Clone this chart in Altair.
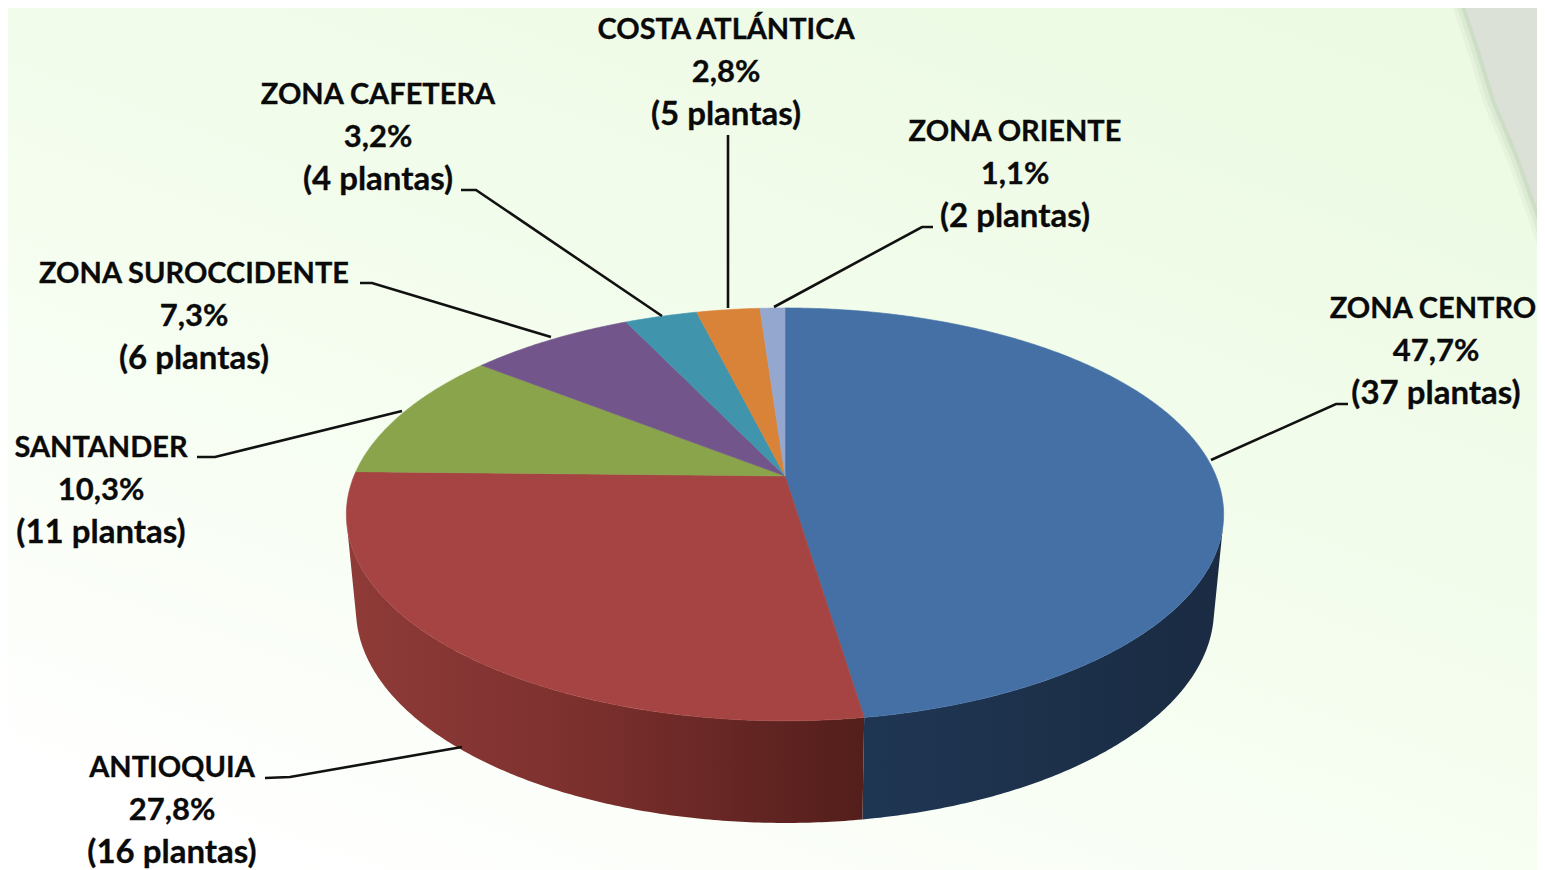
import math
import altair as alt
import pandas as pd

# ---------- data ----------
zones = ["ZONA CENTRO", "ANTIOQUIA", "SANTANDER", "ZONA SUROCCIDENTE",
         "ZONA CAFETERA", "COSTA ATLÁNTICA", "ZONA ORIENTE"]
shares = [47.7, 27.8, 10.3, 7.3, 3.2, 2.8, 1.1]
plants = [37, 16, 11, 6, 4, 5, 2]
top_colors = ["#4570A6", "#A54442", "#8AA44C", "#72558A", "#4095AD", "#D98339", "#94A8CF"]

# ---------- layout (pixels of the 1545x870 frame) ----------
W, H = 1537, 870
APEX_X, APEX_Y = 785.0, 476.0
A, B, K = 431.0, 199.3, 0.186
A2, B2, Y2 = 421.5, 205.9, 570.0

label_xy = [(1436, 309), (172, 768), (101, 448), (194, 274), (378, 95), (726, 30), (1015, 132)]
LINE_GAP = 42.7
first_line_x_nudge = {0: -3}  # keeps ZONA CENTRO inside the page's right edge
leaders = [
    [(1211, 460), (1336, 404), (1348, 404)],
    [(462, 747), (290, 777), (265, 778)],
    [(402, 411), (215, 457), (197, 457)],
    [(551, 337), (372, 283), (360, 283)],
    [(662, 316), (476, 190), (461, 190)],
    [(728, 308), (728, 135)],
    [(774, 307), (922, 227), (933, 227)],
]
corner_edge = [(1463, 0), (1478, 45), (1495, 100), (1518, 155), (1536, 205), (1550, 245)]
corner_fill = corner_edge + [(1560, 245), (1560, 0)]

xs = alt.Scale(domain=[8, W], range=[0, W - 8], nice=False, zero=False)
ys = alt.Scale(domain=[8, H], range=[0, H - 8], nice=False, zero=False)


def top_pt(theta):
    u, v = math.sin(theta), math.cos(theta)
    d = 1 + K * v
    return APEX_X + A * u / d, APEX_Y - B * v / d


def bottom_pt(theta):
    u, v = math.sin(theta), math.cos(theta)
    d = 1 + K * v
    return APEX_X + A2 * u / d, Y2 - B2 * v / d


def arc(fn, t0, t1, step_deg=0.5):
    n = max(2, int(abs(t1 - t0) / math.radians(step_deg)))
    return [fn(t0 + (t1 - t0) * i / n) for i in range(n + 1)]


def poly(points, **mark):
    df = pd.DataFrame(points, columns=["x", "y"])
    df["i"] = range(len(df))
    return alt.Chart(df).mark_line(**mark).encode(
        x=alt.X("x:Q", scale=xs, axis=None),
        y=alt.Y("y:Q", scale=ys, axis=None),
        order=alt.Order("i:Q"),
    )


layers = []

# background
bg = alt.Gradient(
    gradient="linear", x1=0.8, y1=0.0, x2=0.15, y2=1.0,
    stops=[alt.GradientStop(color="#ECFAE3", offset=0),
           alt.GradientStop(color="#F4FDEE", offset=0.5),
           alt.GradientStop(color="#FFFFFF", offset=1)],
)
layers.append(
    alt.Chart(pd.DataFrame({"a": [0]})).mark_rect(fill=bg).encode(
        x=alt.value(0), x2=alt.value(W - 8), y=alt.value(0), y2=alt.value(H - 8))
)
# decorative corner: soft shadow, then the grey band
for sw, op in [(24, 0.12), (16, 0.2), (8, 0.35)]:
    layers.append(poly(corner_edge, stroke="#B4C6AE", strokeWidth=sw, strokeOpacity=op))
layers.append(poly(corner_fill, fill="#DCE1D8", strokeWidth=0))

# side walls
edge = [0.0]
for s in shares:
    edge.append(edge[-1] + s / sum(shares) * 2 * math.pi)

blue_wall = alt.Gradient(gradient="linear", x1=0, y1=0, x2=1, y2=0,
                         stops=[alt.GradientStop(color="#1F3653", offset=0),
                                alt.GradientStop(color="#1A2B42", offset=1)])
red_wall = alt.Gradient(gradient="linear", x1=0, y1=0, x2=1, y2=0,
                        stops=[alt.GradientStop(color="#8F3B38", offset=0),
                               alt.GradientStop(color="#7C302E", offset=0.45),
                               alt.GradientStop(color="#531E1B", offset=1)])
t_right, t_left = math.radians(104), math.radians(256)
wall_b = arc(top_pt, t_right, edge[1]) + arc(bottom_pt, edge[1], t_right)
wall_r = arc(top_pt, edge[1], t_left) + arc(bottom_pt, t_left, edge[1])
layers.append(poly(wall_b, fill=blue_wall, strokeWidth=0))
layers.append(poly(wall_r, fill=red_wall, strokeWidth=0))

# top face
for i, c in enumerate(top_colors):
    pts = [(APEX_X, APEX_Y)] + arc(top_pt, edge[i], edge[i + 1]) + [(APEX_X, APEX_Y)]
    layers.append(poly(pts, fill=c, stroke=c, strokeWidth=0.6))

# leader lines
for seg in leaders:
    layers.append(poly(seg, stroke="#111111", strokeWidth=2.6))

# labels: three lines per zone
line_sizes = [29, 31, 33]
for j, size in enumerate(line_sizes):
    rows = []
    for k, (z, s, p, (lx, ly)) in enumerate(zip(zones, shares, plants, label_xy)):
        t = [z, f"{s:.1f}%".replace(".", ","), f"({p} plantas)"][j]
        nudge = first_line_x_nudge.get(k, 0) if j == 0 else 0
        rows.append({"x": lx + nudge, "y": ly + j * LINE_GAP, "t": t})
    layers.append(
        alt.Chart(pd.DataFrame(rows)).mark_text(
            font="Lato", fontWeight="bold", fontSize=size, color="#0A0A0A",
            stroke="#0A0A0A", strokeWidth=0.3,
            align="center", baseline="middle",
        ).encode(
            x=alt.X("x:Q", scale=xs, axis=None),
            y=alt.Y("y:Q", scale=ys, axis=None),
            text="t:N",
        )
    )

chart = alt.layer(*layers).properties(
    width=W - 8, height=H - 8, padding=0,
    autosize=alt.AutoSizeParams(type="none", contains="content"),
).configure_view(stroke=None)

chart.save("out.html", embed_options={"renderer": "svg", "actions": False})
